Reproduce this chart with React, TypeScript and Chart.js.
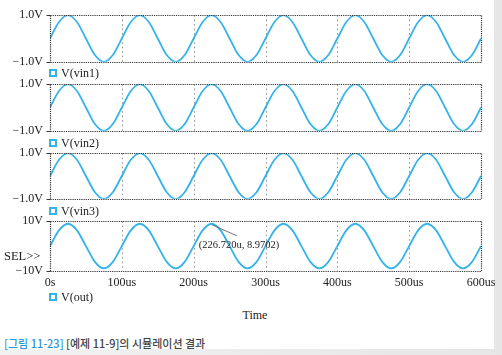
import React, { useEffect, useRef } from "react";
import { Chart, registerables } from "chart.js";
Chart.register(...registerables);

// ---- data ----
const timeUs = [
  0, 12.5, 25, 37.5, 50, 62.5, 75, 87.5,
  100, 112.5, 125, 137.5, 150, 162.5, 175, 187.5,
  200, 212.5, 225, 237.5, 250, 262.5, 275, 287.5,
  300, 312.5, 325, 337.5, 350, 362.5, 375, 387.5,
  400, 412.5, 425, 437.5, 450, 462.5, 475, 487.5,
  500, 512.5, 525, 537.5, 550, 562.5, 575, 587.5,
  600,
];
const vin1 = [
  0, 0.71, 1, 0.71, 0, -0.71, -1, -0.71,
  0, 0.71, 1, 0.71, 0, -0.71, -1, -0.71,
  0, 0.71, 1, 0.71, 0, -0.71, -1, -0.71,
  0, 0.71, 1, 0.71, 0, -0.71, -1, -0.71,
  0, 0.71, 1, 0.71, 0, -0.71, -1, -0.71,
  0, 0.71, 1, 0.71, 0, -0.71, -1, -0.71,
  0,
];
const vin2 = [
  0, 0.71, 1, 0.71, 0, -0.71, -1, -0.71,
  0, 0.71, 1, 0.71, 0, -0.71, -1, -0.71,
  0, 0.71, 1, 0.71, 0, -0.71, -1, -0.71,
  0, 0.71, 1, 0.71, 0, -0.71, -1, -0.71,
  0, 0.71, 1, 0.71, 0, -0.71, -1, -0.71,
  0, 0.71, 1, 0.71, 0, -0.71, -1, -0.71,
  0,
];
const vin3 = [
  0, 0.71, 1, 0.71, 0, -0.71, -1, -0.71,
  0, 0.71, 1, 0.71, 0, -0.71, -1, -0.71,
  0, 0.71, 1, 0.71, 0, -0.71, -1, -0.71,
  0, 0.71, 1, 0.71, 0, -0.71, -1, -0.71,
  0, 0.71, 1, 0.71, 0, -0.71, -1, -0.71,
  0, 0.71, 1, 0.71, 0, -0.71, -1, -0.71,
  0,
];
const vout = [
  0, 6.34, 8.97, 6.34, 0, -6.34, -8.97, -6.34,
  0, 6.34, 8.97, 6.34, 0, -6.34, -8.97, -6.34,
  0, 6.34, 8.97, 6.34, 0, -6.34, -8.97, -6.34,
  0, 6.34, 8.97, 6.34, 0, -6.34, -8.97, -6.34,
  0, 6.34, 8.97, 6.34, 0, -6.34, -8.97, -6.34,
  0, 6.34, 8.97, 6.34, 0, -6.34, -8.97, -6.34,
  0,
];
const xTickValues = [0, 100, 200, 300, 400, 500, 600];
const xTickLabels = ["0s", "100us", "200us", "300us", "400us", "500us", "600us"];
const gridTimes = [100, 200, 300, 400, 500];
const traceNames = ["V(vin1)", "V(vin2)", "V(vin3)", "V(out)"];
const yRanges = [
  [-1, 1],
  [-1, 1],
  [-1, 1],
  [-10, 10],
];
const yTickLabels = [
  ["\u22121.0V", "1.0V"],
  ["\u22121.0V", "1.0V"],
  ["\u22121.0V", "1.0V"],
  ["\u221210V", "10V"],
];
const cursorTime = 226.72;
const cursorValue = 8.9702;
const cursorLabel = "(226.720u, 8.9702)";

// ---- styling ----
const LINE = "#33b3ea";
const SERIF = "'Liberation Serif', 'Times New Roman', serif";
const TEXT = "#222";

const framePlugin = {
  id: "pspiceFrame",
  beforeDatasetsDraw(chart: any) {
    const { ctx, chartArea: a, scales } = chart;
    const x = scales.x;
    ctx.save();
    ctx.strokeStyle = "#8c8c8c";
    ctx.lineWidth = 1;
    ctx.setLineDash([1.5, 3]);
    for (const t of gridTimes) {
      const px = Math.round(x.getPixelForValue(t)) + 0.5;
      ctx.beginPath();
      ctx.moveTo(px, a.top);
      ctx.lineTo(px, a.bottom);
      ctx.stroke();
    }
    ctx.restore();
  },
  afterDatasetsDraw(chart: any) {
    const { ctx, chartArea: a } = chart;
    const l = Math.round(a.left) + 0.5;
    const r = Math.round(a.right) + 0.5;
    const t = Math.round(a.top) + 0.5;
    const b = Math.round(a.bottom) + 0.5;
    ctx.save();
    ctx.strokeStyle = "#333";
    ctx.lineWidth = 1.2;
    ctx.setLineDash([1.2, 1]);
    ctx.beginPath();
    ctx.moveTo(l, t);
    ctx.lineTo(r, t);
    ctx.moveTo(l, b);
    ctx.lineTo(r, b);
    ctx.moveTo(r, t);
    ctx.lineTo(r, b);
    ctx.moveTo(l, t);
    ctx.lineTo(l, b);
    ctx.stroke();
    ctx.setLineDash([]);
    ctx.lineWidth = 1;
    ctx.beginPath();
    ctx.moveTo(l - 4, t);
    ctx.lineTo(l, t);
    ctx.moveTo(l - 4, b);
    ctx.lineTo(l, b);
    ctx.stroke();
    ctx.restore();
  },
};

const cursorPlugin = {
  id: "cursorLabel",
  afterDatasetsDraw(chart: any) {
    const { ctx, scales } = chart;
    const px = scales.x.getPixelForValue(cursorTime);
    const py = scales.y.getPixelForValue(cursorValue);
    ctx.save();
    ctx.strokeStyle = "#666";
    ctx.lineWidth = 0.9;
    ctx.beginPath();
    ctx.moveTo(px - 1, py + 1);
    ctx.lineTo(px + 24, py + 12);
    ctx.stroke();
    ctx.fillStyle = TEXT;
    ctx.font = `10.5px ${SERIF}`;
    ctx.textBaseline = "middle";
    ctx.textAlign = "left";
    ctx.fillText(cursorLabel, px - 14, py + 21);
    ctx.restore();
  },
};

type PanelProps = {
  idx: number;
  chartTop: number;
  chartHeight: number;
  values: number[];
  showX: boolean;
};

function Panel({ idx, chartTop, chartHeight, values, showX }: PanelProps) {
  const ref = useRef<HTMLCanvasElement | null>(null);
  const padTop = 10;
  const padBottom = showX ? 0 : 10;
  const xAxisH = showX ? 22 : 0;
  const canvasH = padTop + chartHeight + padBottom + xAxisH;

  useEffect(() => {
    if (!ref.current) return;
    const [yMin, yMax] = yRanges[idx];
    const labels = yTickLabels[idx];
    const plugins: any[] = [framePlugin];
    if (idx === 3) plugins.push(cursorPlugin);
    const chart = new Chart(ref.current, {
      type: "line",
      data: {
        datasets: [
          {
            label: traceNames[idx],
            data: timeUs.map((t, i) => ({ x: t, y: values[i] })),
            borderColor: LINE,
            borderWidth: 1.8,
            pointRadius: 0,
            fill: false,
            cubicInterpolationMode: "monotone",
          },
        ],
      },
      options: {
        responsive: false,
        animation: false,
        events: [],
        layout: { padding: { top: padTop, left: 0, right: 21, bottom: padBottom } },
        plugins: { legend: { display: false }, tooltip: { enabled: false } },
        scales: {
          x: {
            type: "linear",
            min: 0,
            max: 600,
            display: showX,
            grid: { display: false, drawTicks: false },
            border: { display: false },
            afterBuildTicks: (s: any) => {
              s.ticks = xTickValues.map((v) => ({ value: v }));
            },
            afterFit: (s: any) => {
              s.height = xAxisH;
            },
            ticks: {
              autoSkip: false,
              maxRotation: 0,
              padding: 5,
              color: TEXT,
              font: { family: SERIF, size: 12 },
              callback: (_v: any, i: number) => xTickLabels[i],
            },
          },
          y: {
            type: "linear",
            min: yMin,
            max: yMax,
            grid: { display: false, drawTicks: false },
            border: { display: false },
            afterBuildTicks: (s: any) => {
              s.ticks = [{ value: yMin }, { value: yMax }];
            },
            afterFit: (s: any) => {
              s.width = 50;
            },
            ticks: {
              padding: 7,
              color: TEXT,
              font: { family: SERIF, size: 12 },
              callback: (_v: any, i: number) => labels[i],
            },
          },
        },
      } as any,
      plugins,
    });
    return () => chart.destroy();
  }, []);

  return (
    <canvas
      ref={ref}
      width={502}
      height={canvasH}
      style={{ position: "absolute", left: 0, top: chartTop - padTop, width: 502, height: canvasH }}
    />
  );
}

function TraceLabel({ name, cy }: { name: string; cy: number }) {
  return (
    <div
      style={{
        position: "absolute",
        left: 49,
        top: cy - 8,
        height: 16,
        lineHeight: "16px",
        fontFamily: SERIF,
        fontSize: 12,
        color: TEXT,
        whiteSpace: "nowrap",
        display: "flex",
        alignItems: "center",
      }}
    >
      <span
        style={{
          display: "inline-block",
          width: 4,
          height: 4,
          border: `2px solid ${LINE}`,
          background: "#fff",
          marginRight: 4,
        }}
      />
      <span>{name}</span>
    </div>
  );
}

const panelTops = [11, 80, 149, 217];
const panelHeights = [55, 55, 54, 54];
const panelValues = [vin1, vin2, vin3, vout];
const labelCenters = [73, 142.5, 211, 297];

export default function App() {
  useEffect(() => {
    document.body.style.margin = "0";
  }, []);
  return (
    <div
      style={{
        position: "relative",
        width: 502,
        height: 355,
        overflow: "hidden",
        background: "linear-gradient(90deg, #f2f2f2, #e6e6e6)",
      }}
    >
      <div style={{ position: "absolute", left: 0, top: 0, width: 494, height: 349, background: "#fff" }} />
      {panelTops.map((t, i) => (
        <Panel key={i} idx={i} chartTop={t} chartHeight={panelHeights[i]} values={panelValues[i]} showX={i === 3} />
      ))}
      {traceNames.map((n, i) => (
        <TraceLabel key={n} name={n} cy={labelCenters[i]} />
      ))}
      <div
        style={{
          position: "absolute",
          left: 4,
          top: 248,
          height: 16,
          lineHeight: "16px",
          fontFamily: SERIF,
          fontSize: 12.5,
          color: TEXT,
        }}
      >
        SEL&gt;&gt;
      </div>
      <div
        style={{
          position: "absolute",
          left: 225,
          width: 60,
          textAlign: "center",
          top: 307,
          height: 16,
          lineHeight: "16px",
          fontFamily: SERIF,
          fontSize: 12,
          color: TEXT,
        }}
      >
        Time
      </div>
      <div
        style={{
          position: "absolute",
          left: 4,
          top: 335,
          height: 16,
          lineHeight: "16px",
          fontFamily: "'Noto Sans CJK KR', sans-serif",
          fontSize: 11,
          fontWeight: 500,
          color: "#444",
          whiteSpace: "nowrap",
        }}
      >
        <span style={{ color: "#2b98d6" }}>[그림 11-23]</span> [예제 11-9]의 시뮬레이션 결과
      </div>
    </div>
  );
}
